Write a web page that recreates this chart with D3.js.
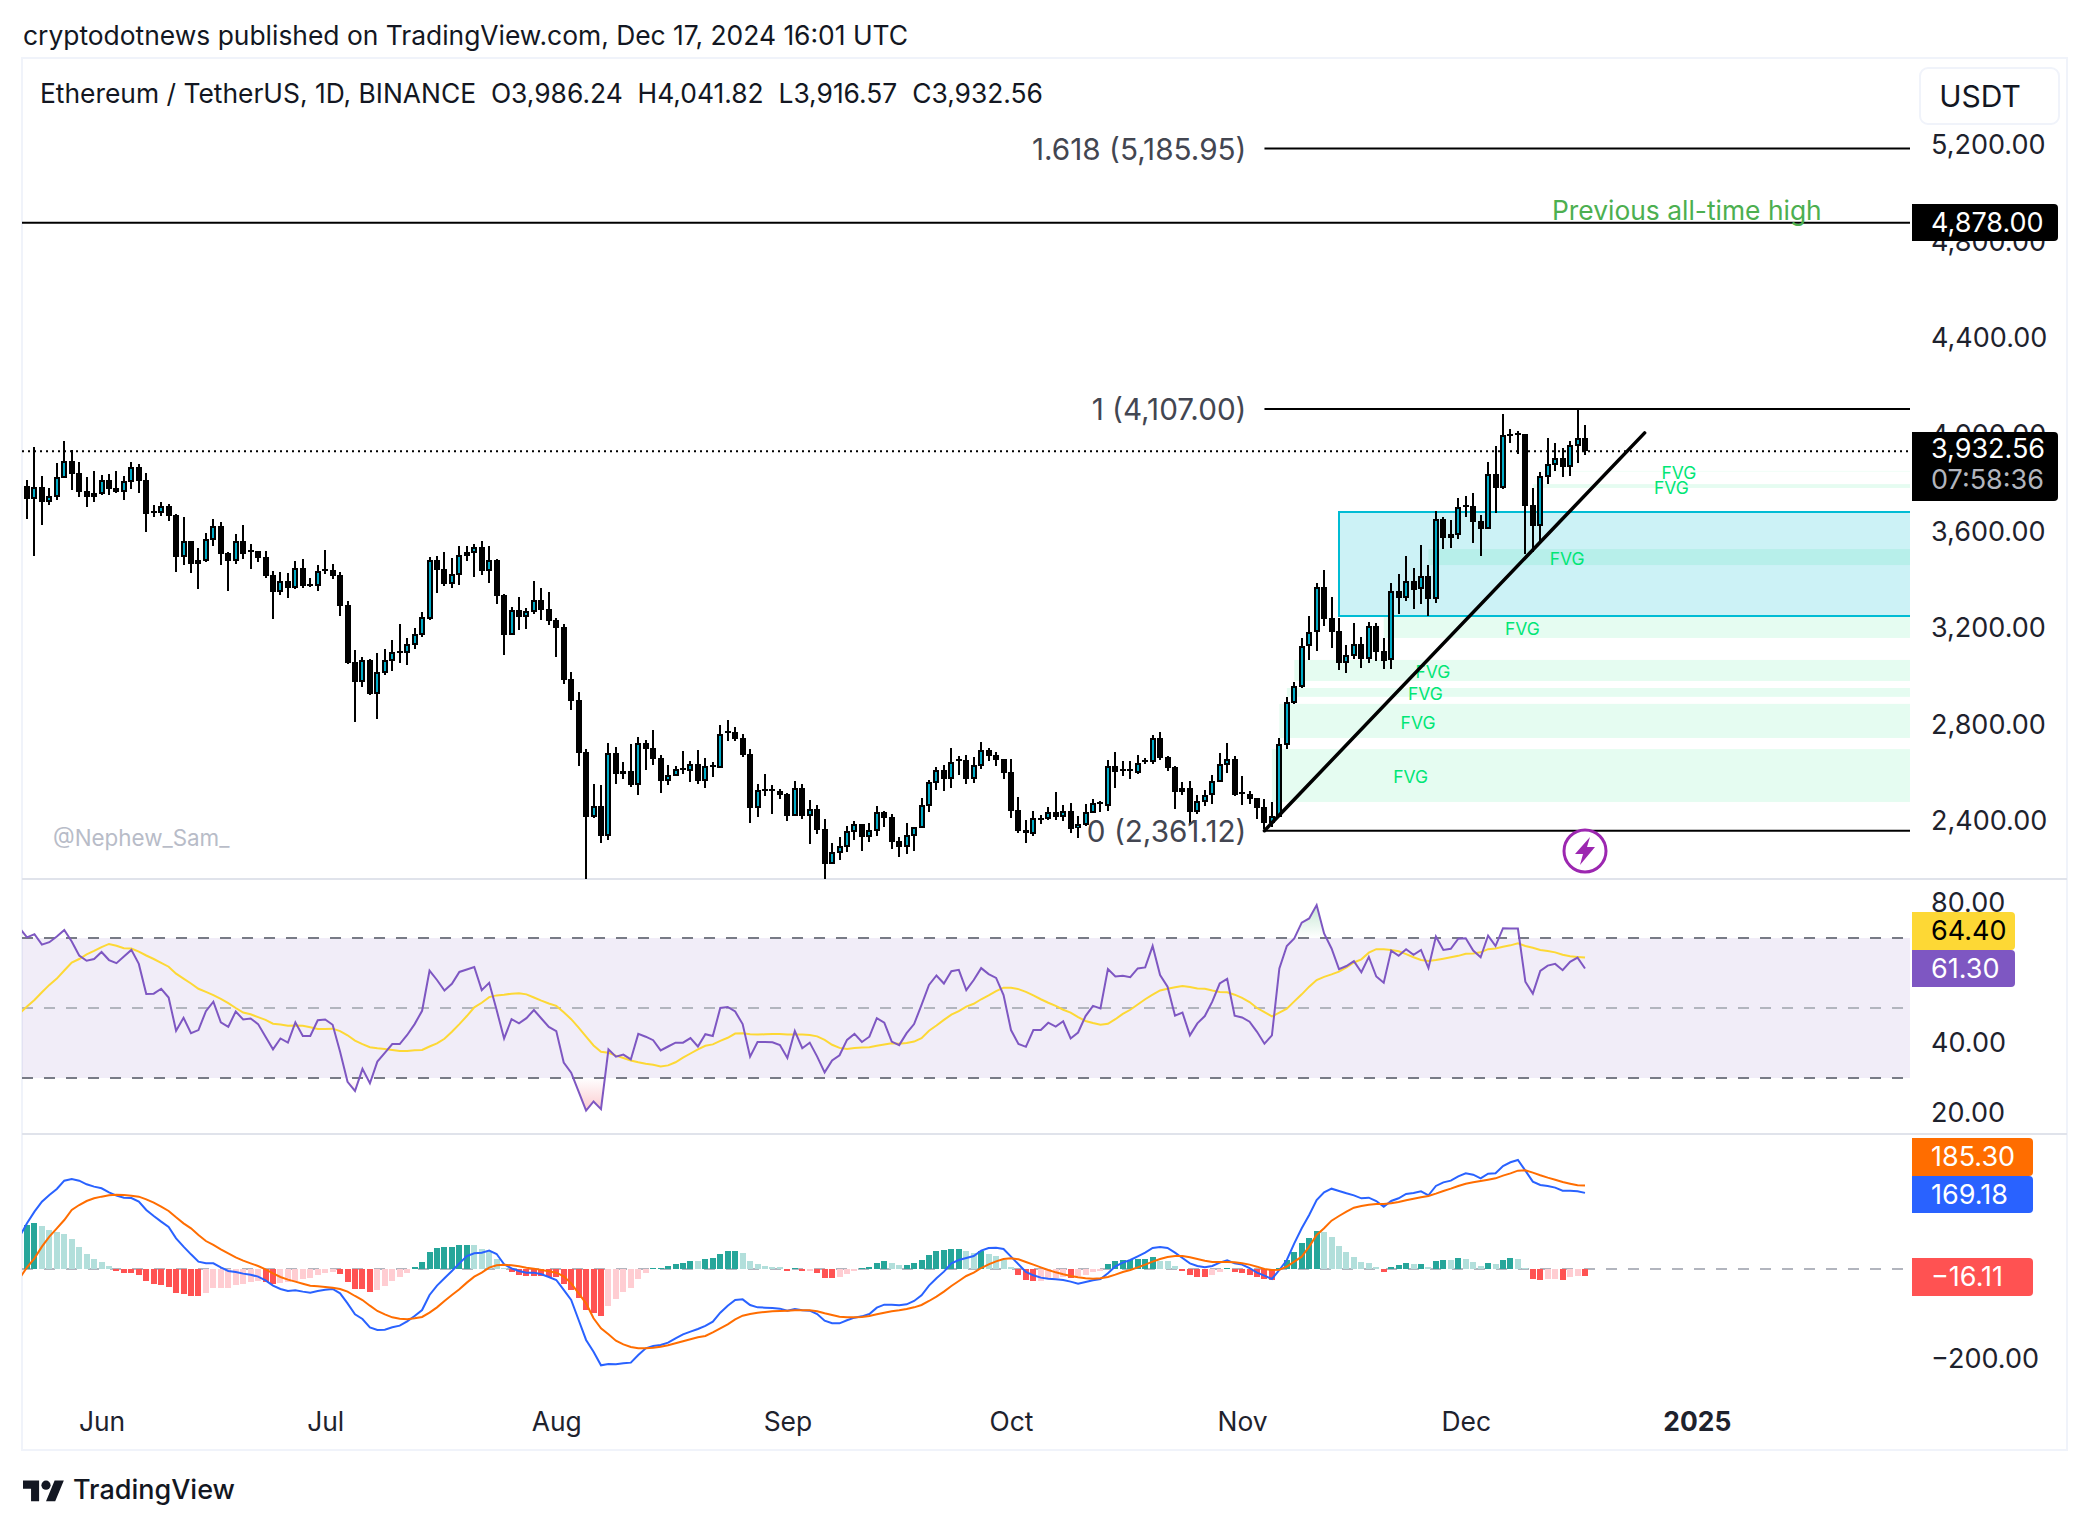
<!DOCTYPE html>
<html>
<head>
<meta charset="utf-8">
<script src="https://cdn.jsdelivr.net/npm/d3@7"></script>
<style>
  html, body { margin: 0; padding: 0; background: #fff; }
  text { font-family: Inter, "Noto Sans", sans-serif; }
</style>
</head>
<body>
<svg id="chart" width="2090" height="1527"></svg>
<script>
//Candles, one per day from 22 May 2024 to 17 Dec 2024
var opens = [3788,3736,3784,3722,3743,3823,3892,3842,3768,3759,
3755,3813,3780,3763,3805,3867,3813,3685,3676,3705,
3668,3494,3561,3482,3478,3565,3623,3511,3478,3561,
3523,3519,3494,3420,3349,3395,3366,3449,3383,3374,
3445,3440,3420,3296,3060,2977,3068,2927,3014,3064,
3105,3097,3130,3171,3238,3482,3445,3383,3420,3515,
3511,3536,3436,3482,3337,3171,3275,3246,3267,3316,
3279,3233,3204,2989,2902,2687,2418,2463,2339,2683,
2608,2608,2550,2724,2703,2662,2567,2588,2621,2608,
2637,2567,2633,2621,2774,2770,2745,2679,2455,2534,
2534,2525,2513,2422,2538,2422,2451,2368,2223,2269,
2294,2356,2389,2335,2360,2439,2418,2318,2294,2339,
2372,2463,2559,2612,2575,2658,2654,2575,2629,2695,
2675,2658,2604,2447,2364,2347,2414,2410,2439,2418,
2443,2372,2385,2434,2480,2463,2629,2617,2617,2600,
2654,2646,2745,2666,2625,2538,2538,2439,2480,2509,
2563,2633,2658,2521,2513,2496,2459,2393,2418,2716,
2890,2956,3126,3184,3370,3242,3188,3055,3084,3134,
3072,3209,3105,3068,3354,3325,3395,3362,3416,3320,
3652,3590,3585,3710,3705,3643,3610,3838,3780,4004,
4008,4004,3710,3623,3825,3875,3904,3867,3954,3986.24];
var highs = [3812,3948,3830,3779,3883,3975,3937,3888,3825,3850,
3834,3838,3850,3830,3888,3879,3842,3710,3722,3714,
3672,3660,3561,3532,3594,3652,3639,3515,3590,3627,
3548,3519,3519,3436,3432,3428,3478,3486,3407,3461,
3523,3465,3432,3312,3109,3080,3072,3097,3113,3151,
3217,3159,3200,3267,3494,3498,3515,3490,3540,3540,
3548,3561,3540,3486,3341,3287,3329,3283,3395,3366,
3349,3242,3217,3018,2935,2699,2554,2550,2724,2708,
2646,2720,2749,2737,2778,2674,2633,2629,2691,2650,
2695,2662,2646,2799,2819,2790,2761,2699,2554,2596,
2550,2534,2517,2567,2554,2488,2467,2410,2310,2335,
2381,2401,2389,2393,2463,2443,2430,2335,2393,2376,
2496,2571,2625,2633,2703,2670,2674,2666,2728,2703,
2687,2658,2658,2501,2405,2443,2426,2459,2521,2468,
2476,2422,2472,2492,2484,2654,2687,2650,2650,2675,
2662,2757,2770,2670,2629,2563,2567,2509,2530,2592,
2683,2724,2670,2588,2525,2496,2492,2480,2745,2915,
2977,3159,3250,3387,3441,3329,3242,3130,3221,3163,
3225,3221,3159,3387,3424,3498,3449,3544,3461,3685,
3660,3648,3739,3747,3759,3668,3888,3954,4086,4024,
4016,4004,3780,3846,3987,3966,3946,3975,4103,4041.82];
var lows = [3652,3498,3627,3710,3730,3823,3772,3743,3701,3722,
3751,3751,3759,3730,3776,3759,3598,3660,3664,3643,
3432,3461,3428,3362,3474,3540,3461,3354,3465,3486,
3445,3474,3407,3238,3337,3325,3362,3366,3370,3354,
3424,3403,3250,3051,2811,2956,2923,2824,3006,3022,
3055,3047,3113,3163,3233,3345,3374,3366,3378,3478,
3411,3420,3387,3300,3089,3171,3192,3196,3258,3233,
3213,3080,2968,2861,2629,2111,2414,2310,2323,2554,
2575,2542,2509,2612,2633,2517,2550,2588,2596,2563,
2555,2538,2583,2621,2732,2732,2666,2393,2418,2505,
2430,2492,2401,2422,2410,2306,2347,2150,2223,2240,
2273,2323,2277,2314,2339,2376,2285,2252,2265,2277,
2372,2439,2530,2525,2538,2592,2555,2559,2617,2650,
2629,2575,2414,2352,2310,2339,2389,2405,2405,2401,
2352,2331,2381,2434,2439,2443,2538,2588,2575,2596,
2637,2637,2654,2608,2451,2509,2385,2430,2463,2472,
2563,2600,2505,2468,2472,2410,2368,2378,2418,2699,
2886,2952,3068,3105,3209,3118,3026,3014,3072,3035,
3055,3064,3031,3031,3258,3312,3279,3300,3250,3304,
3527,3532,3569,3660,3552,3498,3610,3676,3776,3966,
3921,3507,3515,3561,3796,3850,3825,3830,3883,3916.57];
var closes = [3736,3784,3722,3747,3825,3892,3838,3763,3743,3743,
3813,3776,3763,3809,3867,3809,3672,3678,3705,3664,
3494,3561,3465,3465,3569,3623,3507,3478,3561,3507,
3515,3490,3416,3349,3395,3366,3449,3374,3374,3436,
3436,3416,3291,3055,2977,3068,2927,3018,3068,3101,
3097,3134,3176,3246,3482,3440,3383,3424,3503,3498,
3536,3436,3482,3333,3171,3275,3246,3271,3316,3275,
3229,3200,2985,2898,2683,2418,2463,2339,2683,2596,
2596,2550,2724,2699,2658,2567,2592,2617,2612,2637,
2567,2629,2625,2761,2766,2741,2675,2455,2530,2525,
2525,2509,2422,2538,2422,2451,2364,2223,2273,2298,
2360,2389,2335,2364,2439,2414,2314,2294,2343,2376,
2467,2563,2612,2575,2646,2650,2575,2633,2695,2670,
2654,2600,2443,2360,2352,2414,2405,2439,2418,2443,
2368,2389,2439,2476,2476,2629,2604,2608,2608,2641,
2646,2745,2662,2621,2521,2521,2439,2484,2509,2567,
2637,2658,2509,2513,2492,2455,2393,2422,2720,2894,
2960,3126,3184,3370,3238,3184,3055,3089,3134,3072,
3209,3101,3064,3354,3325,3395,3358,3416,3320,3652,
3573,3573,3701,3701,3639,3610,3838,3780,3999,3995,
3999,3705,3623,3830,3879,3904,3867,3958,3987,3932.56];

//Indicator lines start one bar before the first candle, so they reach the left edge
var rsi = [72.8,70.2,71.1,68.1,68.8,70.4,72.3,69.0,65.0,63.5,64.0,
66.0,63.7,62.8,64.7,66.6,62.6,54.0,54.1,55.5,53.0,
43.5,47.2,42.8,43.7,49.1,51.8,45.9,44.6,49.0,46.7,
47.0,45.4,41.8,38.2,41.3,40.1,45.9,42.0,42.0,46.5,
46.7,45.2,37.5,28.9,26.3,32.6,28.5,34.7,37.2,39.7,
39.7,42.3,45.4,49.2,60.7,58.0,55.0,56.9,60.3,61.0,
61.7,55.1,57.2,49.4,41.3,46.8,45.6,47.1,49.4,47.0,
44.6,43.4,34.4,31.5,26.1,20.7,23.3,21.1,38.2,36.1,
36.7,35.3,42.6,41.8,40.8,37.9,39.0,40.1,40.1,41.4,
39.0,42.5,42.0,50.0,50.3,49.0,45.4,36.1,40.3,40.3,
40.2,39.4,35.7,43.4,38.5,40.1,36.1,31.6,35.0,36.5,
40.9,42.6,40.3,41.8,47.1,45.8,40.4,39.4,42.8,45.4,
50.9,56.6,59.3,57.0,60.5,60.9,55.1,58.0,61.4,59.7,
58.6,53.7,43.7,39.7,38.9,43.7,43.7,45.8,44.7,46.2,
41.3,43.0,47.7,50.6,49.9,61.1,59.0,59.2,58.8,61.3,
61.6,67.7,59.4,56.1,47.8,48.7,42.2,45.6,47.7,51.8,
57.0,58.3,47.8,47.3,46.1,43.2,39.8,42.2,61.3,67.7,
69.9,74.4,75.6,79.4,71.3,67.0,61.1,62.0,63.4,60.2,
64.6,59.0,57.2,66.4,64.9,66.8,65.2,66.6,61.4,70.4,
66.6,66.9,69.8,69.9,66.4,64.5,70.7,67.7,72.8,72.7,
72.7,57.5,54.1,60.6,62.1,62.6,60.8,63.2,64.4,61.30];
var rsiMa = [48.5,50.4,52.3,54.5,56.6,58.4,60.7,63.0,64.0,65.3,66.3,
67.4,68.3,67.8,67.1,67.0,66.1,65.0,64.0,62.9,61.8,
59.8,58.4,57.0,55.5,54.6,53.7,52.6,51.4,50.0,48.7,
48.2,47.4,46.6,45.5,45.3,44.9,45.0,44.9,44.5,44.0,
44.0,44.1,43.4,42.2,40.7,39.7,38.8,38.5,38.3,38.0,
37.7,37.7,37.9,38.0,39.0,39.9,41.2,43.2,45.4,47.7,
50.2,51.5,53.1,53.6,53.8,54.1,54.2,53.9,53.0,52.1,
51.3,50.6,48.8,46.8,44.4,41.8,39.3,37.5,37.2,36.4,
35.7,35.0,34.5,34.1,33.8,33.3,33.6,34.5,35.8,37.0,
38.2,39.2,39.6,40.6,41.5,42.7,42.8,42.5,42.4,42.5,
42.6,42.6,42.4,42.4,42.4,42.3,41.9,40.9,39.5,38.6,
38.3,38.6,38.7,38.8,39.2,39.6,39.9,39.8,40.0,40.4,
41.4,43.5,45.0,46.6,48.1,49.1,50.4,51.2,52.5,53.6,
54.8,55.8,55.8,55.4,54.6,53.6,52.5,51.5,50.6,49.5,
48.7,47.4,46.3,45.7,45.2,45.5,46.8,48.3,49.5,51.0,
52.5,53.8,55.0,55.5,55.9,56.3,56.0,55.6,55.5,55.0,
54.6,54.5,53.8,52.9,51.7,50.0,48.8,47.6,48.7,49.8,
51.9,53.9,56.1,58.0,58.9,59.6,60.4,61.6,63.0,63.9,
65.8,66.8,66.8,66.6,66.2,65.4,64.5,63.7,63.4,63.7,
64.1,64.5,64.9,65.5,65.6,65.9,66.8,67.0,67.5,67.9,
68.5,67.7,67.2,66.6,66.3,65.9,65.2,64.8,64.6,64.40];
var macd = [71.9,101.5,127.4,149.7,164.5,177.8,196.3,200,196.3,188.2,183,
179.3,170.4,163,158.5,157.8,149.7,131.1,117.8,105.2,93.3,
68.2,49.7,32.6,16.3,12.6,12.6,3.7,-4.4,-6.6,-10.3,
-12.6,-17,-25.2,-37,-44.4,-48.9,-47.4,-50.3,-52.6,-48.9,
-45.9,-44.4,-54.1,-76.3,-100.7,-111.1,-129.6,-135.5,-134.8,-129.6,
-125.9,-116.3,-104.4,-91.1,-57.7,-37,-20.7,-4.4,12.6,28.9,
34.8,36.3,40.8,33.4,10.4,1.5,-4.4,-8.1,-8.1,-11.8,
-17.8,-24.4,-46.6,-68.9,-113.3,-157.7,-183.7,-214,-211.1,-211.8,
-209.6,-208.1,-191.1,-176.3,-171.1,-168.9,-163.7,-154,-145.2,-139.2,
-133.3,-126.6,-117,-97,-81.5,-68.9,-67.4,-80,-85.2,-85.9,
-86.6,-88.1,-92.6,-88.9,-91.8,-92.6,-100,-114.8,-120.7,-120.7,
-114,-108.1,-105.2,-100,-85.9,-79.2,-79.2,-80.7,-78.5,-71.1,
-58.5,-37,-20.7,-5.9,12.6,20,24.5,28.9,40.8,46.7,
47.4,44.5,27.4,10.4,-6.6,-14,-19.2,-21.5,-22.9,-24.4,
-28.1,-32.6,-28.9,-25.2,-22.2,-9.6,5.9,14.1,20,28.2,
36.3,46.7,48.9,46.7,36.3,24.5,12.6,6.7,3.7,6.7,
14.1,19.3,12.6,9.7,2.2,-8.1,-14.8,-22.2,-2.2,20,
57,90.4,120,153.4,170.4,178.5,173.4,168.2,163.7,157.1,
158.5,151.1,138.5,151.1,157.1,166.7,168.9,172.6,163.7,184.5,
192.6,196.3,205.9,212.6,209.6,201.5,211.9,212.6,228.9,237.1,
242.2,218.5,194.1,186.7,184.5,180.8,174.1,174.1,172.6,169.18];
var signal = [-20.7,3.7,23.7,49.7,71.9,90.4,108.9,131.1,142.2,151.1,157.1,
160.8,163.7,165.2,164.5,163,160.8,154.8,147.4,138.5,128.9,
114.8,101.5,90.4,75.6,62.2,53.4,43.7,34.8,25.9,18.5,
12.6,6.7,-0.7,-9.6,-17.8,-23.7,-28.1,-32.6,-37,-38.5,
-40,-41.5,-44.4,-50.3,-60,-68.9,-81.5,-93.3,-100.7,-107.4,
-110.3,-111.8,-109.6,-106.6,-97,-85.2,-71.1,-57.7,-45.2,-30.3,
-17,-8.1,3,8.2,9.7,8.2,5.9,3,0.8,-2.2,
-5.2,-8.1,-16.3,-31.8,-54,-76.3,-109.6,-131.8,-145.2,-159.2,
-167.4,-173.3,-176.3,-176.3,-174.8,-172.6,-169.6,-165.2,-160.7,-156.3,
-151.8,-148.9,-140.7,-131.8,-123,-111.8,-103.7,-100,-97,-95.5,
-94,-93.3,-92.6,-91.8,-91.8,-91.8,-94,-98.5,-102.2,-105.9,
-107.4,-107.4,-106.6,-104.4,-100.7,-97,-94,-91.8,-88.9,-85.2,
-80,-71.1,-61.5,-50.3,-37.7,-26.6,-15.5,-8.1,2.2,10.4,
17,22.2,23.7,21.5,15.6,9.7,3.7,-2.2,-7.4,-11.8,
-15.5,-18.5,-20.7,-21.5,-20.7,-17.8,-12.6,-6.6,-2.2,3.7,
9.7,16.3,22.2,26.7,28.9,28.9,26,22.2,18.5,15.6,
15.6,15.6,14.8,12.6,9.7,5.2,0,-2.2,-1.5,5.2,
16.3,27.4,49.7,75.6,90.4,107.4,117.8,127.4,136.3,140,
143,144.5,144.5,145.9,148.9,152.6,156.3,159.3,162.2,167.4,
173.4,178.5,184.5,189.6,192.6,195.6,198.5,201.5,207.4,212.6,
218.5,219.3,214.1,208.2,203,198.5,193.4,189.6,186,185.30];
var hist = [97.7,101.4,95.5,86.6,82.2,77.7,66.6,48.8,33.3,22.2,
15.5,6.6,-4.5,-8.9,-9.3,-13.4,-26.7,-33.4,-35.6,-40,
-53.4,-55.6,-60,-60.4,-53.4,-42.3,-41.9,-41.5,-35.6,-33.4,
-28.9,-26.7,-28.9,-33.4,-31.2,-28.9,-26.7,-22.3,-20,-13.4,
-8.9,-6.7,-11.2,-28.9,-44.5,-44.9,-51.1,-46.7,-37.8,-26.7,
-17.8,-8.9,4.4,15.5,37.7,46.6,48.8,49.2,53.3,53.7,
53.3,44.4,40,22.2,2.2,-6.7,-13.4,-15.6,-16,-16.5,
-17,-17.8,-33.4,-46.7,-64.5,-91.2,-97.8,-104.5,-82.3,-66.7,
-51.1,-42.3,-22.3,-8.9,1.4,2.2,6.6,11.1,13.3,17.7,
17.2,22.2,24.4,33.3,40,40.2,35.6,17.8,11.1,6.7,
4.4,4.2,-4.4,2.2,-4.4,-4.2,-8.9,-20,-20.2,-17.8,
-11.1,-4.4,2.2,4.4,13.3,17.8,13.3,8.9,9.1,13.3,
20,31.1,40,42.2,44.4,44.6,40,35.6,40,33.3,
28.9,20,4.4,-13.3,-24.4,-26.7,-26.5,-22.2,-20,-17.8,
-20,-15.6,-13.3,-6.7,-4.4,11.1,17.8,20,20.2,22.2,
22.4,26.7,17.8,17.6,6.7,-4.4,-13.3,-17.8,-18,-13.3,
-6.7,2.2,-6.7,-8.9,-13.3,-17.8,-22.2,-23.7,2.2,20,
37.8,57.8,68.9,84.4,82.2,71.1,51.1,37.8,26.7,15.6,
13.3,4.4,-6.7,4.4,8.9,13.3,11.1,11.3,4.4,17.8,
20,19.8,24.4,22.2,15.6,6.7,13.3,11.1,20,24.4,
22.2,2.2,-22.2,-24.4,-22.2,-22,-24.4,-17.5,-15.2,-16.11];

//Axis ticks
var priceTicks = [5200,4800,4400,4000,3600,3200,2800,2400];
var rsiTicks = [80,40,20];
var macdTicks = [-200];
var timeTicks = [10,40,71,102,132,163,193,224];
var timeLabels = ["Jun","Jul","Aug","Sep","Oct","Nov","Dec","2025"];

//Fair value gaps as [first bar, top price, bottom price]
var fvgBars = [203,202,188,182,170,169,168,167];
var fvgTops = [3851,3796,3527,3250,3068,2952,2886,2699];
var fvgBottoms = [3846,3780,3461,3159,2981,2915,2745,2480];

//Drawings on the price pane
var fibLevels = [5185.95,4107,2361.12];
var fibTexts = ["1.618 (5,185.95)","1 (4,107.00)","0 (2,361.12)"];
var fibStartBar = 166;
var athPrice = 4878;
var lastPrice = 3932.56;
var boxBar = 176, boxTop = 3680.6, boxBottom = 3250;
var trendBars = [166,217], trendPrices = [2361.12,4008];

var fontSize = 26.4, axisSize = 27, fibSize = 29.7;
var left = 22, right = 1910, frameRight = 2067, axisX = 1931;
var mainTop = 58, mainBottom = 879, rsiBottom = 1134, frameBottom = 1450;

var svg = d3.select("#chart");
var fmt = d3.format(",.2f");
var minus = v => fmt(v).replace("-", "\u2212");

var x = d3.scaleLinear().domain([0,209]).range([27,1585]);
var y = d3.scaleLinear().domain([4107,2361.12]).range([409,830.7]);
var yRsi = d3.scaleLinear().domain([70,30]).range([938,1078]);
var yMacd = d3.scaleLinear().domain([0,-200]).range([1269,1359]);

var defs = svg.append("defs");
function clip(id, top, bottom) {
  defs.append("clipPath").attr("id", id).append("rect")
    .attr("x", left).attr("y", top).attr("width", right - left).attr("height", bottom - top);
}
clip("clipMain", mainTop, mainBottom);
clip("clipRsi", mainBottom, rsiBottom);
clip("clipMacd", rsiBottom, frameBottom);
clip("clipOver", mainBottom, yRsi(70));
clip("clipUnder", yRsi(30), rsiBottom);

function fade(id, color, y1, y2) {
  var g = defs.append("linearGradient").attr("id", id)
    .attr("gradientUnits", "userSpaceOnUse")
    .attr("x1", 0).attr("x2", 0).attr("y1", y1).attr("y2", y2);
  g.append("stop").attr("offset", 0).attr("stop-color", color).attr("stop-opacity", 0);
  g.append("stop").attr("offset", 1).attr("stop-color", color).attr("stop-opacity", 0.28);
}
fade("fadeOver", "#26a65b", yRsi(70), yRsi(80));
fade("fadeUnder", "#f23645", yRsi(30), yRsi(20));

//Page text
svg.append("text").attr("x", 23).attr("y", 36).attr("dy", "0.35em").attr("font-size", fontSize)
  .attr("fill", "#131722").text("cryptodotnews published on TradingView.com, Dec 17, 2024 16:01 UTC");

//Frame and pane separators
svg.append("rect").attr("x", left).attr("y", mainTop).attr("width", frameRight - left)
  .attr("height", frameBottom - mainTop).attr("fill", "none").attr("stroke", "#f0f3fa").attr("stroke-width", 2);
[mainBottom, rsiBottom].forEach(v => {
  svg.append("line").attr("x1", left).attr("x2", frameRight).attr("y1", v).attr("y2", v)
    .attr("stroke", "#e0e3eb").attr("stroke-width", 2);
});

svg.append("text").attr("x", 40).attr("y", 94).attr("dy", "0.35em").attr("font-size", fontSize)
  .attr("fill", "#131722").attr("xml:space", "preserve")
  .text("Ethereum / TetherUS, 1D, BINANCE  O3,986.24  H4,041.82  L3,916.57  C3,932.56");

//Price pane
var main = svg.append("g").attr("clip-path", "url(#clipMain)");

var gaps = main.append("g");
gaps.selectAll("rect").data(fvgBars).join("rect")
  .attr("x", d => x(d))
  .attr("width", d => right - x(d))
  .attr("y", (d,i) => y(fvgTops[i]))
  .attr("height", (d,i) => y(fvgBottoms[i]) - y(fvgTops[i]))
  .attr("fill", "#00e676").attr("fill-opacity", (d,i) => i == 0 ? 0.05 : 0.1);

main.append("rect")
  .attr("x", x(boxBar)).attr("width", right + 4 - x(boxBar))
  .attr("y", y(boxTop)).attr("height", y(boxBottom) - y(boxTop))
  .attr("fill", "#00bcd4").attr("fill-opacity", 0.2)
  .attr("stroke", "#00bcd4").attr("stroke-width", 2);

gaps = main.append("g");
gaps.selectAll("text").data(fvgBars).join("text")
  .attr("x", d => x(d + 18.6))
  .attr("y", (d,i) => (y(fvgTops[i]) + y(fvgBottoms[i])) / 2 + 1.5)
  .attr("dy", "0.35em").attr("text-anchor", "middle")
  .attr("font-size", 17.5).attr("fill", "#00e676").text("FVG");

//Last price line
main.append("line").attr("x1", left).attr("x2", right).attr("y1", y(lastPrice)).attr("y2", y(lastPrice))
  .attr("stroke", "#000").attr("stroke-width", 2).attr("stroke-dasharray", "2 4");

//Candles
var candles = main.append("g").attr("shape-rendering", "crispEdges");
var barIdx = d3.range(opens.length);
candles.selectAll("line").data(barIdx).join("line")
  .attr("x1", i => Math.round(x(i))).attr("x2", i => Math.round(x(i)))
  .attr("y1", i => y(highs[i])).attr("y2", i => y(lows[i]))
  .attr("stroke", "#000").attr("stroke-width", 2);
candles.selectAll("rect.body").data(barIdx).join("rect").attr("class", "body")
  .attr("x", i => Math.round(x(i)) - 3).attr("width", 6)
  .attr("y", i => Math.min(y(opens[i]), y(closes[i])))
  .attr("height", i => Math.max(2, Math.abs(y(opens[i]) - y(closes[i]))))
  .attr("fill", "#000");
candles.selectAll("rect.fill").data(barIdx.filter(i => closes[i] >= opens[i])).join("rect").attr("class", "fill")
  .attr("x", i => Math.round(x(i)) - 1).attr("width", 2)
  .attr("y", i => y(closes[i]) + 2)
  .attr("height", i => Math.max(1, y(opens[i]) - y(closes[i]) - 4))
  .attr("fill", "#00acc8");

//Fib levels, all-time high, trend line
main.selectAll("line.fib").data(fibLevels).join("line").attr("class", "fib")
  .attr("x1", x(fibStartBar)).attr("x2", right)
  .attr("y1", d => y(d)).attr("y2", d => y(d))
  .attr("stroke", "#000").attr("stroke-width", 2);
main.append("line").attr("x1", left).attr("x2", right).attr("y1", y(athPrice)).attr("y2", y(athPrice))
  .attr("stroke", "#000").attr("stroke-width", 2);
main.append("line")
  .attr("x1", x(trendBars[0])).attr("y1", y(trendPrices[0]))
  .attr("x2", x(trendBars[1])).attr("y2", y(trendPrices[1]))
  .attr("stroke", "#000").attr("stroke-width", 3.5).attr("stroke-linecap", "round");

main.selectAll("text.fib").data(fibTexts).join("text").attr("class", "fib")
  .attr("x", x(fibStartBar) - 18).attr("y", (d,i) => y(fibLevels[i]) + 1)
  .attr("dy", "0.35em").attr("text-anchor", "end")
  .attr("font-size", fibSize).attr("fill", "#434651").text(d => d);

main.append("text").attr("x", 1552).attr("y", 211).attr("dy", "0.35em")
  .attr("font-size", fontSize).attr("fill", "#4caf50").text("Previous all-time high");

main.append("text").attr("x", 53).attr("y", 838).attr("dy", "0.35em")
  .attr("font-size", 22.4).attr("fill", "#b8bcc8").text("@Nephew_Sam_");

//Lightning badge under the last candle
var badge = main.append("g").attr("transform", "translate(" + x(209) + ",851)");
badge.append("circle").attr("r", 21).attr("fill", "#fff").attr("stroke", "#9c27b0").attr("stroke-width", 3);
badge.append("path").attr("d", "M5,-14 L-10,3 L-2,3 L-5,14 L10,-4 L2,-4 Z").attr("fill", "#9c27b0");

//Axes
function axisText(g) {
  g.select(".domain").remove();
  g.selectAll(".tick line").remove();
  g.selectAll("text").attr("font-size", axisSize).attr("fill", "#1e222d")
    .style("font-family", "Inter, 'Noto Sans', sans-serif");
}
svg.append("g").attr("transform", "translate(" + axisX + ",0)")
  .call(d3.axisRight(y).tickValues(priceTicks).tickFormat(fmt).tickSize(0).tickPadding(0)).call(axisText);
svg.append("g").attr("transform", "translate(" + axisX + ",0)")
  .call(d3.axisRight(yRsi).tickValues(rsiTicks).tickFormat(fmt).tickSize(0).tickPadding(0)).call(axisText);
svg.append("g").attr("transform", "translate(" + axisX + ",0)")
  .call(d3.axisRight(yMacd).tickValues(macdTicks).tickFormat(minus).tickSize(0).tickPadding(0)).call(axisText);

var timeAxis = svg.append("g").attr("transform", "translate(0,1412)")
  .call(d3.axisBottom(x).tickValues(timeTicks).tickFormat((d,i) => timeLabels[i]).tickSize(0).tickPadding(0))
  .call(axisText);
timeAxis.selectAll("text").attr("font-size", fontSize).attr("font-weight", (d,i) => timeLabels[i] == "2025" ? 700 : 400);

//Price labels on the scale
function tag(top, bottom, width, fill, txt, color, textY) {
  svg.append("path")
    .attr("d", "M1912," + top + "H" + (1912 + width - 4) + "q4,0 4,4V" + (bottom - 4) + "q0,4 -4,4H1912Z")
    .attr("fill", fill);
  svg.append("text").attr("x", axisX).attr("y", textY === undefined ? (top + bottom) / 2 : textY)
    .attr("dy", "0.35em").attr("font-size", axisSize).attr("fill", color).text(txt);
}
tag(204, 241, 146, "#000", fmt(athPrice), "#fff");
tag(432, 501, 146, "#000", fmt(lastPrice), "#fff", 449);
svg.append("text").attr("x", axisX).attr("y", 480).attr("dy", "0.35em").attr("font-size", axisSize)
  .attr("fill", "#b2b5be").text("07:58:36");

tag(912, 950, 103, "#fdd835", fmt(rsiMa[rsiMa.length - 1]), "#000");
tag(950, 987, 103, "#7e57c2", fmt(rsi[rsi.length - 1]), "#fff");

tag(1138, 1176, 121, "#ff6d00", fmt(signal[signal.length - 1]), "#fff");
tag(1176, 1213, 121, "#2962ff", fmt(macd[macd.length - 1]), "#fff");
tag(1258, 1296, 121, "#ff5252", minus(hist[hist.length - 1]), "#fff");

//Currency button
svg.append("rect").attr("x", 1920).attr("y", 68).attr("width", 139).attr("height", 56).attr("rx", 8)
  .attr("fill", "#fff").attr("stroke", "#f0f3fa").attr("stroke-width", 2);
svg.append("text").attr("x", 1980).attr("y", 96).attr("dy", "0.35em").attr("text-anchor", "middle")
  .attr("font-size", 30).attr("fill", "#131722").text("USDT");

//RSI pane
var lineFrom = scale => d3.line().x((d,k) => x(k - 1)).y(d => scale(d));
var rsiPane = svg.append("g").attr("clip-path", "url(#clipRsi)");
rsiPane.append("rect").attr("x", left).attr("width", right - left)
  .attr("y", yRsi(70)).attr("height", yRsi(30) - yRsi(70)).attr("fill", "#7e57c2").attr("fill-opacity", 0.11);

[[70,"#787b86"],[50,"#b2b5be"],[30,"#787b86"]].forEach(d => {
  rsiPane.append("line").attr("x1", left).attr("x2", right).attr("y1", yRsi(d[0])).attr("y2", yRsi(d[0]))
    .attr("stroke", d[1]).attr("stroke-width", 2).attr("stroke-dasharray", "11 11");
});

var overArea = d3.area().x((d,k) => x(k - 1)).y0(yRsi(70)).y1(d => yRsi(d));
var underArea = d3.area().x((d,k) => x(k - 1)).y0(yRsi(30)).y1(d => yRsi(d));
rsiPane.append("g").attr("clip-path", "url(#clipOver)").append("path").attr("d", overArea(rsi)).attr("fill", "url(#fadeOver)");
rsiPane.append("g").attr("clip-path", "url(#clipUnder)").append("path").attr("d", underArea(rsi)).attr("fill", "url(#fadeUnder)");

rsiPane.append("path").attr("d", lineFrom(yRsi)(rsiMa)).attr("fill", "none").attr("stroke", "#fdd835").attr("stroke-width", 2);
rsiPane.append("path").attr("d", lineFrom(yRsi)(rsi)).attr("fill", "none").attr("stroke", "#7e57c2").attr("stroke-width", 2);

//MACD pane
var macdPane = svg.append("g").attr("clip-path", "url(#clipMacd)");
macdPane.append("line").attr("x1", left).attr("x2", right).attr("y1", yMacd(0)).attr("y2", yMacd(0))
  .attr("stroke", "#b2b5be").attr("stroke-width", 2).attr("stroke-dasharray", "11 11");

function histColor(v, i) {
  var prev = i > 0 ? hist[i - 1] : 0;
  if (v >= 0) return v >= prev ? "#26a69a" : "#b2dfdb";
  return v <= prev ? "#ff5252" : "#ffcdd2";
}
macdPane.append("g").attr("shape-rendering", "crispEdges")
  .selectAll("rect").data(hist).join("rect")
  .attr("x", (d,i) => Math.round(x(i)) - 3).attr("width", 6)
  .attr("y", d => Math.min(yMacd(d), yMacd(0)))
  .attr("height", d => Math.abs(yMacd(d) - yMacd(0)))
  .attr("fill", histColor);

macdPane.append("path").attr("d", lineFrom(yMacd)(macd)).attr("fill", "none").attr("stroke", "#2962ff").attr("stroke-width", 2);
macdPane.append("path").attr("d", lineFrom(yMacd)(signal)).attr("fill", "none").attr("stroke", "#ff6d00").attr("stroke-width", 2);

//TradingView mark
var logo = svg.append("g").attr("transform", "translate(23,1476) scale(1.15)").attr("fill", "#131722");
logo.append("path").attr("d", "M14 22H7V11H0V4h14v18zM28 22h-8l7.5-18h8L28 22z");
logo.append("circle").attr("cx", 20).attr("cy", 8).attr("r", 4);
svg.append("text").attr("x", 73).attr("y", 1490).attr("dy", "0.35em").attr("font-size", 27)
  .attr("font-weight", 500).attr("fill", "#131722").text("TradingView");
</script>
</body>
</html>
